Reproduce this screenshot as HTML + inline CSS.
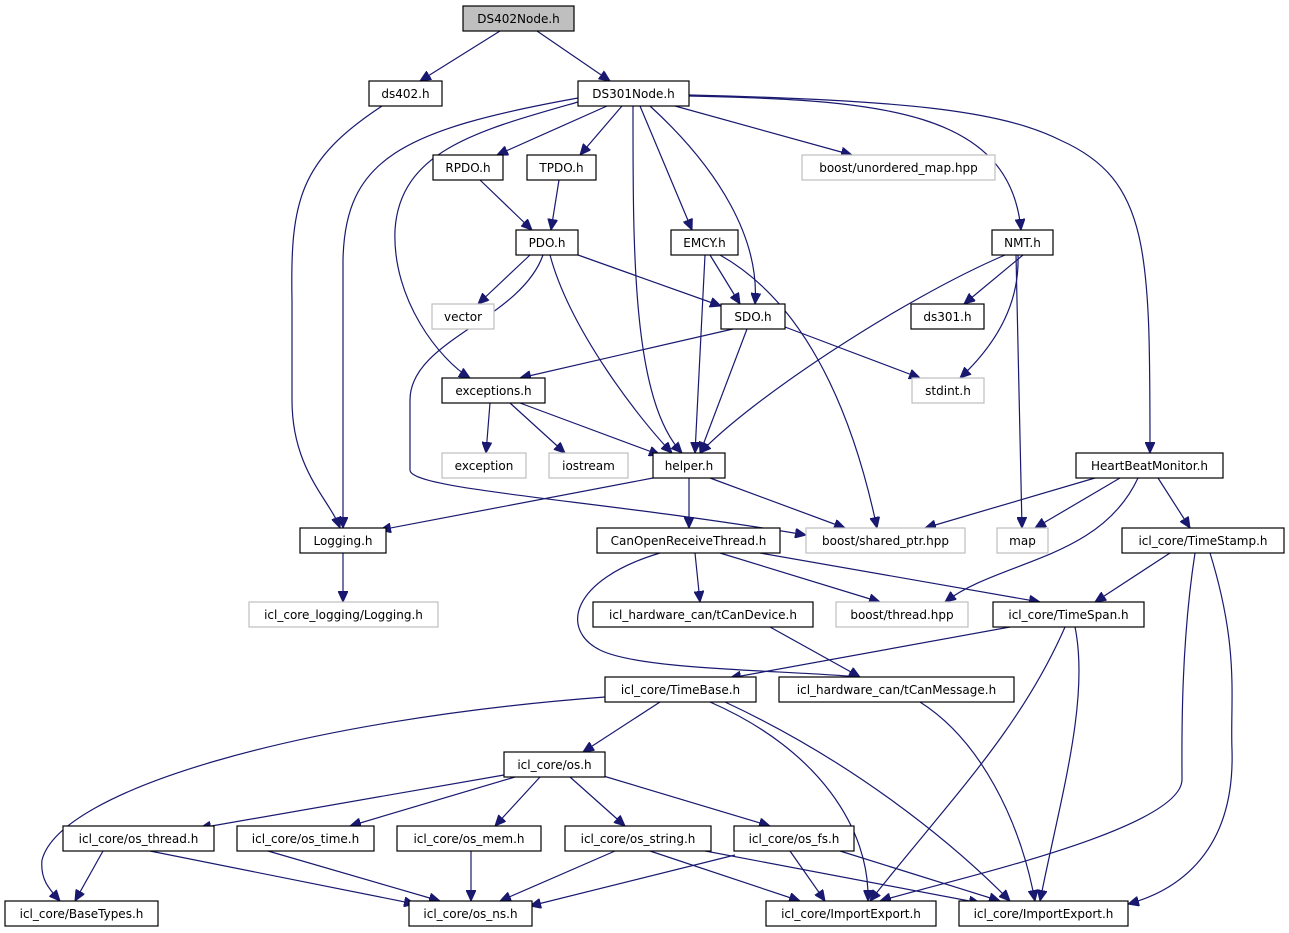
<!DOCTYPE html>
<html><head><meta charset="utf-8"><style>
html,body{margin:0;padding:0;background:#fff;}
svg{display:block;}
text{font-family:"DejaVu Sans","Liberation Sans",sans-serif;font-size:12px;fill:#000;}
.n rect{fill:#fff;stroke:#000;stroke-width:1.2;}
.g rect{fill:#fff;stroke:#bfbfbf;stroke-width:1.2;}
.e path{fill:none;stroke:#191970;stroke-width:1.2;marker-end:url(#a);}
</style></head><body>
<svg width="1289" height="933" viewBox="0 0 1289 933" xmlns="http://www.w3.org/2000/svg">
<defs><marker id="a" markerUnits="userSpaceOnUse" markerWidth="12" markerHeight="10" refX="11" refY="5" orient="auto"><path d="M0,0 L11,5 L0,10 z" fill="#191970" stroke="#191970"/></marker></defs>
<g class="e">
<path d="M500,31 L420,81"/>
<path d="M537,31 L610,81"/>
<path d="M382,106 C300,160 290,200 292,300 L292,400 C292,470 330,500 340,528"/>
<path d="M607,106 L497,155"/>
<path d="M622,106 L580,155"/>
<path d="M675,106 L852,155"/>
<path d="M640,106 L692,230"/>
<path d="M650,106 C720,170 760,240 755,304"/>
<path d="M633,106 C633,250 632,400 682,453"/>
<path d="M578,98 C400,130 345,160 343,260 L343,528"/>
<path d="M578,102 C480,130 400,150 395,230 C392,300 440,360 470,378"/>
<path d="M689,96 C880,100 1010,110 1021,230"/>
<path d="M689,95 C900,100 1000,110 1060,140 C1150,180 1150,250 1150,453"/>
<path d="M480,180 L532,230"/>
<path d="M559,180 L551,230"/>
<path d="M530,255 L478,304"/>
<path d="M578,255 L721,306"/>
<path d="M550,255 C570,330 640,420 672,453"/>
<path d="M543,255 C520,320 410,340 410,400 L410,470 C410,490 600,500 806,535"/>
<path d="M710,255 L740,304"/>
<path d="M705,255 L695,453"/>
<path d="M720,255 C800,300 850,400 877,528"/>
<path d="M1023,255 L964,304"/>
<path d="M1018,255 C1020,310 990,350 960,378"/>
<path d="M1016,255 L1022,528"/>
<path d="M1005,255 C900,300 750,400 700,453"/>
<path d="M733,329 L520,378"/>
<path d="M747,329 L700,453"/>
<path d="M785,327 L920,378"/>
<path d="M490,403 L486,453"/>
<path d="M510,403 L565,453"/>
<path d="M520,403 L660,455"/>
<path d="M653,478 L380,530"/>
<path d="M689,478 L689,528"/>
<path d="M710,478 L845,528"/>
<path d="M1095,478 L925,528"/>
<path d="M1120,478 L1035,528"/>
<path d="M1158,478 L1190,528"/>
<path d="M1138,478 C1100,560 1000,560 945,602"/>
<path d="M343,553 L343,602"/>
<path d="M695,553 L700,602"/>
<path d="M720,553 L880,602"/>
<path d="M760,553 L1040,602"/>
<path d="M660,553 C570,580 560,630 600,650 C640,670 780,670 860,677"/>
<path d="M770,627 L860,677"/>
<path d="M1010,627 L730,678"/>
<path d="M1065,627 C1020,730 950,800 870,901"/>
<path d="M1075,627 C1090,700 1060,800 1040,901"/>
<path d="M1170,553 L1095,602"/>
<path d="M1195,553 C1180,650 1182,750 1182,780 C1180,830 950,880 880,901"/>
<path d="M1210,553 C1240,650 1230,700 1232,750 C1235,850 1180,890 1128,904"/>
<path d="M605,697 C300,720 60,790 42,860 C40,880 50,890 60,901"/>
<path d="M660,702 L583,752"/>
<path d="M710,702 C820,750 870,830 868,901"/>
<path d="M725,702 C850,760 950,840 1010,901"/>
<path d="M920,702 C980,740 1020,820 1035,901"/>
<path d="M504,775 L200,828"/>
<path d="M515,777 L350,826"/>
<path d="M540,777 L495,826"/>
<path d="M570,777 L625,826"/>
<path d="M600,775 L770,826"/>
<path d="M103,851 L75,901"/>
<path d="M150,851 L415,904"/>
<path d="M268,851 L440,901"/>
<path d="M471,851 L471,901"/>
<path d="M615,851 L500,901"/>
<path d="M650,851 L800,901"/>
<path d="M700,850 L980,903"/>
<path d="M735,855 L530,906"/>
<path d="M790,851 L825,901"/>
<path d="M840,851 L1000,901"/>
</g>
<g text-anchor="middle">
<g><rect x="463" y="6" width="111" height="25" fill="#bfbfbf" stroke="#000" stroke-width="1.2"/><text x="518.5" y="23">DS402Node.h</text></g>
<g class="n"><rect x="369" y="81" width="73" height="25"/><text x="405.5" y="98">ds402.h</text></g>
<g class="n"><rect x="578" y="81" width="111" height="25"/><text x="633.5" y="98">DS301Node.h</text></g>
<g class="n"><rect x="433" y="155" width="70" height="25"/><text x="468" y="172">RPDO.h</text></g>
<g class="n"><rect x="527" y="155" width="69" height="25"/><text x="561.5" y="172">TPDO.h</text></g>
<g class="g"><rect x="802" y="155" width="193" height="25"/><text x="898.5" y="172">boost/unordered_map.hpp</text></g>
<g class="n"><rect x="516" y="230" width="62" height="25"/><text x="547" y="247">PDO.h</text></g>
<g class="n"><rect x="671" y="230" width="67" height="25"/><text x="704.5" y="247">EMCY.h</text></g>
<g class="n"><rect x="992" y="230" width="61" height="25"/><text x="1022.5" y="247">NMT.h</text></g>
<g class="g"><rect x="432" y="304" width="62" height="25"/><text x="463" y="321">vector</text></g>
<g class="n"><rect x="721" y="304" width="64" height="25"/><text x="753" y="321">SDO.h</text></g>
<g class="n"><rect x="911" y="304" width="73" height="25"/><text x="947.5" y="321">ds301.h</text></g>
<g class="n"><rect x="442" y="378" width="103" height="25"/><text x="493.5" y="395">exceptions.h</text></g>
<g class="g"><rect x="912" y="378" width="72" height="25"/><text x="948" y="395">stdint.h</text></g>
<g class="g"><rect x="442" y="453" width="84" height="25"/><text x="484" y="470">exception</text></g>
<g class="g"><rect x="549" y="453" width="79" height="25"/><text x="588.5" y="470">iostream</text></g>
<g class="n"><rect x="653" y="453" width="72" height="25"/><text x="689" y="470">helper.h</text></g>
<g class="n"><rect x="1076" y="453" width="147" height="25"/><text x="1149.5" y="470">HeartBeatMonitor.h</text></g>
<g class="n"><rect x="300" y="528" width="86" height="25"/><text x="343" y="545">Logging.h</text></g>
<g class="g"><rect x="806" y="528" width="159" height="25"/><text x="885.5" y="545">boost/shared_ptr.hpp</text></g>
<g class="n"><rect x="597" y="528" width="183" height="25"/><text x="688.5" y="545">CanOpenReceiveThread.h</text></g>
<g class="g"><rect x="997" y="528" width="51" height="25"/><text x="1022.5" y="545">map</text></g>
<g class="n"><rect x="1122" y="528" width="162" height="25"/><text x="1203" y="545">icl_core/TimeStamp.h</text></g>
<g class="g"><rect x="249" y="602" width="189" height="25"/><text x="343.5" y="619">icl_core_logging/Logging.h</text></g>
<g class="n"><rect x="593" y="602" width="220" height="25"/><text x="703" y="619">icl_hardware_can/tCanDevice.h</text></g>
<g class="g"><rect x="836" y="602" width="132" height="25"/><text x="902" y="619">boost/thread.hpp</text></g>
<g class="n"><rect x="993" y="602" width="151" height="25"/><text x="1068.5" y="619">icl_core/TimeSpan.h</text></g>
<g class="n"><rect x="605" y="677" width="151" height="25"/><text x="680.5" y="694">icl_core/TimeBase.h</text></g>
<g class="n"><rect x="779" y="677" width="235" height="25"/><text x="896.5" y="694">icl_hardware_can/tCanMessage.h</text></g>
<g class="n"><rect x="504" y="752" width="101" height="25"/><text x="554.5" y="769">icl_core/os.h</text></g>
<g class="n"><rect x="63" y="826" width="151" height="25"/><text x="138.5" y="843">icl_core/os_thread.h</text></g>
<g class="n"><rect x="237" y="826" width="137" height="25"/><text x="305.5" y="843">icl_core/os_time.h</text></g>
<g class="n"><rect x="397" y="826" width="144" height="25"/><text x="469" y="843">icl_core/os_mem.h</text></g>
<g class="n"><rect x="565" y="826" width="146" height="25"/><text x="638" y="843">icl_core/os_string.h</text></g>
<g class="n"><rect x="734" y="826" width="120" height="25"/><text x="794" y="843">icl_core/os_fs.h</text></g>
<g class="n"><rect x="5" y="901" width="153" height="25"/><text x="81.5" y="918">icl_core/BaseTypes.h</text></g>
<g class="n"><rect x="409" y="901" width="123" height="25"/><text x="470.5" y="918">icl_core/os_ns.h</text></g>
<g class="n"><rect x="766" y="901" width="170" height="25"/><text x="851" y="918">icl_core/ImportExport.h</text></g>
<g class="n"><rect x="959" y="901" width="169" height="25"/><text x="1043.5" y="918">icl_core/ImportExport.h</text></g>
</g>
</svg>
</body></html>
